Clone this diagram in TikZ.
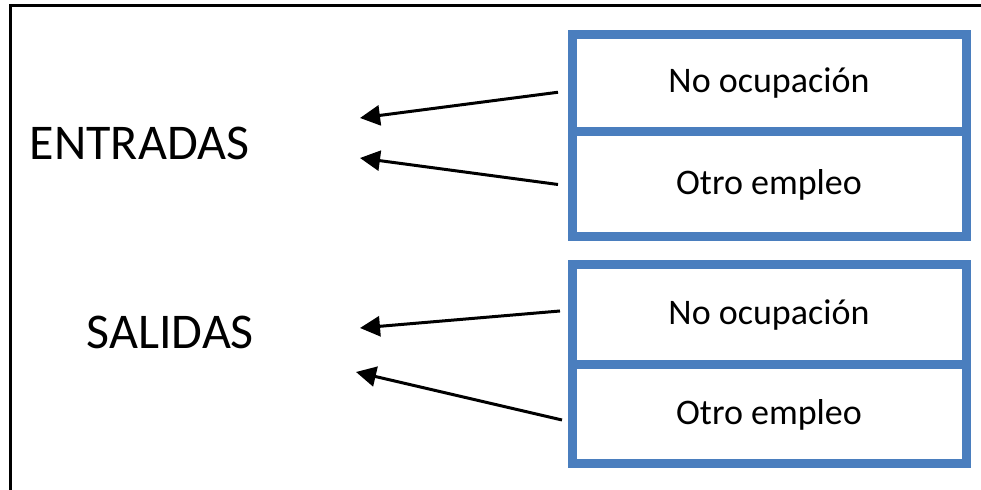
\documentclass[tikz,border=0pt]{standalone}
\usepackage{fontspec}
\setmainfont{Carlito}
\usetikzlibrary{positioning,arrows.meta}
\definecolor{marco}{RGB}{74,126,190}
\begin{document}
\begin{tikzpicture}[x=0.5pt,y=-0.5pt]

\tikzstyle{casilla}  = [draw=marco, line width=4.5pt, rectangle, minimum width=197pt, outer sep=0pt, inner sep=0pt, font=\fontsize{18pt}{22pt}\selectfont]
\tikzstyle{etiqueta} = [anchor=east, font=\fontsize{25pt}{30pt}\selectfont]
\tikzstyle{flecha}   = [line width=1.5pt, -{Triangle[length=10pt,width=10pt]}]

\useasboundingbox (0,0) rectangle (981,490);
\draw [line width=1.5pt] (10.5,490) -- (10.5,6) -- (981,6);

\node [casilla, minimum height=48.75pt] (NoOcupE) at (769,83.25) {No ocupación};
\node [casilla, minimum height=52.5pt, below=0pt of NoOcupE] (OtroE) {Otro empleo};
\node [casilla, minimum height=50pt, below=14pt of OtroE] (NoOcupS) {No ocupación};
\node [casilla, minimum height=49.5pt, below=0pt of NoOcupS] (OtroS) {Otro empleo};

\node [etiqueta] (Entradas) at (256,143.5) {ENTRADAS};
\node [etiqueta] (Salidas) at (261,332.5) {SALIDAS};

\coordinate (E1) at (360,118);
\coordinate (E2) at (360,158);
\coordinate (S1) at (360,328);
\coordinate (S2) at (356,372);

\draw [flecha] ([xshift=-7pt,yshift=-4.5pt]NoOcupE.west) -- (E1);
\draw [flecha] ([xshift=-7pt]OtroE.west) -- (E2);
\draw [flecha] ([xshift=-6pt,yshift=2pt]NoOcupS.west) -- (S1);
\draw [flecha] ([xshift=-5pt,yshift=-2.75pt]OtroS.west) -- (S2);
\end{tikzpicture}
\end{document}
